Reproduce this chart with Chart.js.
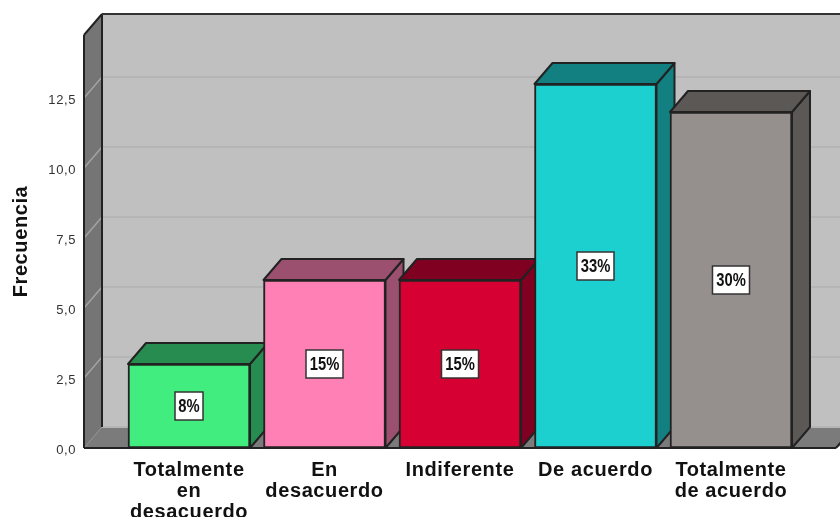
<!DOCTYPE html>
<html>
<head>
<meta charset="utf-8">
<style>
    html, body { margin: 0; padding: 0; background: #fff; overflow: hidden; }
    canvas { display: block; }
</style>
<script src="https://cdn.jsdelivr.net/npm/chart.js@4"></script>
</head>
<body>
<canvas id="chart" width="840" height="517"></canvas>
<script>
var categories = [
    ['Totalmente', 'en', 'desacuerdo'],
    ['En', 'desacuerdo'],
    ['Indiferente'],
    ['De acuerdo'],
    ['Totalmente', 'de acuerdo']
]
var frecuencia  = [3, 6, 6, 13, 12]
var porcentajes = ['8%', '15%', '15%', '33%', '30%']
var frontColors = ['#41ed7f', '#ff80b4', '#d70033', '#1cd0d0', '#958f8d']
var depthColors = ['#268c50', '#9a506e', '#7f0020', '#128080', '#5c5856']

// Depth of the fake 3D box, in pixels
var DX = 18
var DY = 21

function poly(ctx, pts, fill, stroke, width) {
    ctx.beginPath()
    pts.forEach(function (p, i) {
        if (i) ctx.lineTo(p[0], p[1])
        else ctx.moveTo(p[0], p[1])
    })
    ctx.closePath()
    if (fill) {
        ctx.fillStyle = fill
        ctx.fill()
    }
    if (stroke) {
        ctx.strokeStyle = stroke
        ctx.lineWidth = width || 2
        ctx.lineJoin = 'round'
        ctx.stroke()
    }
}

function line(ctx, x1, y1, x2, y2, color, width) {
    ctx.beginPath()
    ctx.moveTo(x1, y1)
    ctx.lineTo(x2, y2)
    ctx.strokeStyle = color
    ctx.lineWidth = width
    ctx.stroke()
}

var box3d = {
    id: 'box3d',

    beforeDraw: function (chart) {
        var ctx = chart.ctx
        ctx.fillStyle = '#fff'
        ctx.fillRect(0, 0, chart.width, chart.height)

        // The axis text in the reference is spaced out a little
        ctx.letterSpacing = '0.6px'
    },

    // Walls, floor, grid lines and the bar tops and sides
    beforeDatasetsDraw: function (chart) {
        var ctx = chart.ctx
        var a = chart.chartArea
        var yScale = chart.scales.y
        var far = a.right + 40
        ctx.letterSpacing = '0px'
        ctx.save()

        // Back wall
        poly(ctx, [[a.left + DX, a.top - DY], [far, a.top - DY], [far, a.bottom - DY], [a.left + DX, a.bottom - DY]], '#c0c0c0')

        // Side wall and floor
        poly(ctx, [[a.left, a.top], [a.left + DX, a.top - DY], [a.left + DX, a.bottom - DY], [a.left, a.bottom]], '#757575')
        poly(ctx, [[a.left, a.bottom], [a.left + DX, a.bottom - DY], [far, a.bottom - DY], [a.right, a.bottom]], '#7b7b7b')

        // Grid lines
        yScale.ticks.forEach(function (tick) {
            var y = yScale.getPixelForValue(tick.value)
            line(ctx, a.left + DX, y - DY, far, y - DY, '#b5b5b5', 2)
            if (tick.value > 0) line(ctx, a.left, y, a.left + DX, y - DY, '#a3a3a3', 1.5)
        })

        // Outlines
        line(ctx, a.left, a.top, a.left, a.bottom, '#222', 2)
        line(ctx, a.left, a.top, a.left + DX, a.top - DY, '#222', 2)
        line(ctx, a.left + DX, a.top - DY, a.left + DX, a.bottom - DY, '#222', 2)
        line(ctx, a.left + DX, a.top - DY, far, a.top - DY, '#333', 2)
        line(ctx, a.left, a.bottom, a.right, a.bottom, '#222', 2)
        line(ctx, a.right, a.bottom, a.right + DX, a.bottom - DY, '#222', 2)

        // Tops and sides, left to right so later bars paint over earlier sides
        chart.getDatasetMeta(0).data.forEach(function (bar, i) {
            var l = bar.x - bar.width / 2
            var r = bar.x + bar.width / 2
            poly(ctx, [[r, bar.y], [r + DX, bar.y - DY], [r + DX, bar.base - DY], [r, bar.base]], depthColors[i], '#222')
            poly(ctx, [[l, bar.y], [l + DX, bar.y - DY], [r + DX, bar.y - DY], [r, bar.y]], depthColors[i], '#222')
        })
        ctx.restore()
    },

    // Percent boxes in the middle of each bar
    afterDatasetsDraw: function (chart) {
        var ctx = chart.ctx
        ctx.save()
        ctx.font = 'bold 18px "Liberation Sans", sans-serif'
        ctx.textAlign = 'center'
        ctx.textBaseline = 'middle'
        chart.getDatasetMeta(0).data.forEach(function (bar, i) {
            var w = porcentajes[i].length > 2 ? 37 : 28
            var cy = (bar.y + bar.base) / 2
            ctx.fillStyle = '#fff'
            ctx.strokeStyle = '#333'
            ctx.lineWidth = 1.5
            ctx.fillRect(bar.x - w / 2, cy - 14, w, 28)
            ctx.strokeRect(bar.x - w / 2, cy - 14, w, 28)
            ctx.fillStyle = '#111'

            // Narrow digits, as in the reference
            ctx.fillText(porcentajes[i], bar.x, cy + 1, ctx.measureText(porcentajes[i]).width * 0.82)
        })
        ctx.restore()
    }
}

new Chart(document.getElementById('chart'), {
    type: 'bar',
    data: {
        datasets: [{
            label: 'Frecuencia',
            data: frecuencia.map(function (v, i) { return { x: i, y: v } }),
            backgroundColor: frontColors,
            borderColor: '#222',
            borderWidth: 2,
            borderSkipped: false,
            barThickness: 122,
            clip: false
        }]
    },
    plugins: [box3d],
    options: {
        responsive: false,
        animation: false,
        devicePixelRatio: 1,
        layout: { padding: { top: 35, right: 4, left: 0, bottom: 0 } },
        plugins: {
            legend: { display: false },
            tooltip: { enabled: false }
        },
        scales: {
            x: {
                type: 'linear',
                offset: false,
                min: -0.775,
                max: 4.775,
                grid: { display: false },
                border: { display: false },
                afterBuildTicks: function (scale) {
                    scale.ticks = categories.map(function (c, i) { return { value: i } })
                },
                afterFit: function (scale) { scale.height = 69 },
                ticks: {
                    autoSkip: false,
                    maxRotation: 0,
                    padding: 4,
                    color: '#111',
                    font: { family: '"Liberation Sans", Arial, sans-serif', size: 20, weight: 'bold', lineHeight: 1.05 },
                    callback: function (value) { return categories[value] }
                }
            },
            y: {
                min: 0,
                max: 14.75,
                grid: { display: false },
                border: { display: false },
                afterBuildTicks: function (scale) {
                    scale.ticks = [0, 2.5, 5, 7.5, 10, 12.5].map(function (v) { return { value: v } })
                },
                afterFit: function (scale) { scale.width = 84 },
                title: {
                    display: true,
                    text: 'Frecuencia',
                    color: '#111',
                    padding: { top: 9, bottom: 0 },
                    font: { family: '"Liberation Sans", Arial, sans-serif', size: 20, weight: 'bold' }
                },
                ticks: {
                    padding: 0,
                    labelOffset: 2,
                    color: '#333',
                    font: { family: '"Liberation Sans", Arial, sans-serif', size: 13 },
                    callback: function (value) { return value.toFixed(1).replace('.', ',') }
                }
            }
        }
    }
})
</script>
</body>
</html>
